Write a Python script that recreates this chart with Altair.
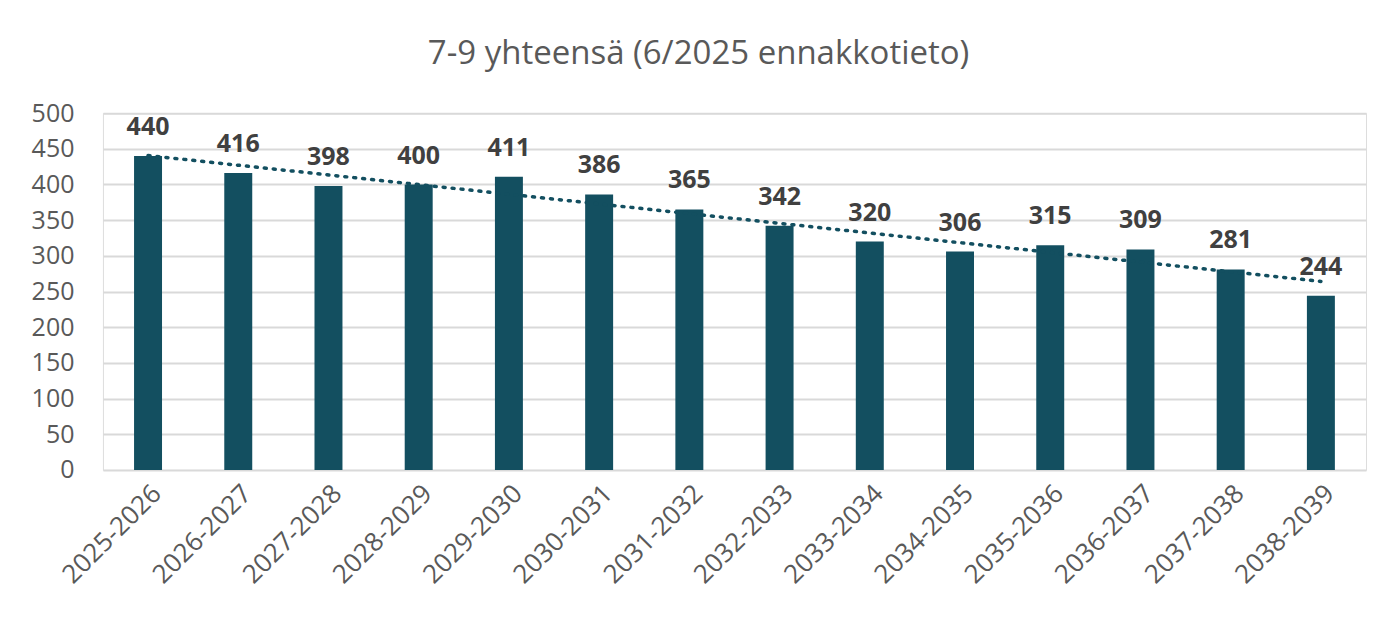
import altair as alt
import pandas as pd

periods = ["2025-2026", "2026-2027", "2027-2028", "2028-2029", "2029-2030",
           "2030-2031", "2031-2032", "2032-2033", "2033-2034", "2034-2035",
           "2035-2036", "2036-2037", "2037-2038", "2038-2039"]
values = [440, 416, 398, 400, 411, 386, 365, 342, 320, 306, 315, 309, 281, 244]
idx = list(range(len(periods)))
y_ticks = [0, 50, 100, 150, 200, 250, 300, 350, 400, 450, 500]

df = pd.DataFrame({"period": periods, "value": values, "i": idx})

FONT = "Open Sans"
BAR = "#134F60"

x = alt.X("period:N", sort=periods, title=None,
          scale=alt.Scale(paddingInner=0.69, paddingOuter=0.345),
          axis=alt.Axis(labelAngle=-45, labelFontSize=26, labelColor="#595959",
                        labelFont=FONT, domain=False, ticks=False, labelPadding=10))
y = alt.Y("value:Q", title=None,
          scale=alt.Scale(domain=[0, 500]),
          axis=alt.Axis(values=y_ticks, tickCount=20, labelFontSize=25,
                        labelColor="#595959", labelFont=FONT, domain=False,
                        ticks=False, labelPadding=29, gridColor="#D9D9D9",
                        gridWidth=2, labelOverlap=False))

base = alt.Chart(df)

bars = base.mark_bar(color=BAR).encode(x=x, y=y)

labels = base.mark_text(baseline="bottom", dy=-16, fontSize=25, fontWeight="bold",
                        color="#404040", font=FONT).encode(
    x=x, y=y, text=alt.Text("value:Q"))

trend = base.transform_regression("i", "value").transform_lookup(
    lookup="i", from_=alt.LookupData(data=df, key="i", fields=["period"])
).mark_line(color=BAR, strokeWidth=3.5, strokeDash=[2, 7], strokeCap="round").encode(
    x=x, y=y)

chart = alt.layer(bars, trend, labels).properties(
    width=1264, height=357,
    padding={"left": 23, "top": 30, "right": 4, "bottom": 10},
    title=alt.TitleParams("7-9 yhteensä (6/2025 ennakkotieto)", fontSize=33,
                          fontWeight="normal", color="#595959", font=FONT,
                          offset=30, anchor="middle", frame="bounds"),
).configure_view(stroke=None).configure(background="white")

chart.save("out.html", embed_options={"renderer": "svg", "actions": False})
